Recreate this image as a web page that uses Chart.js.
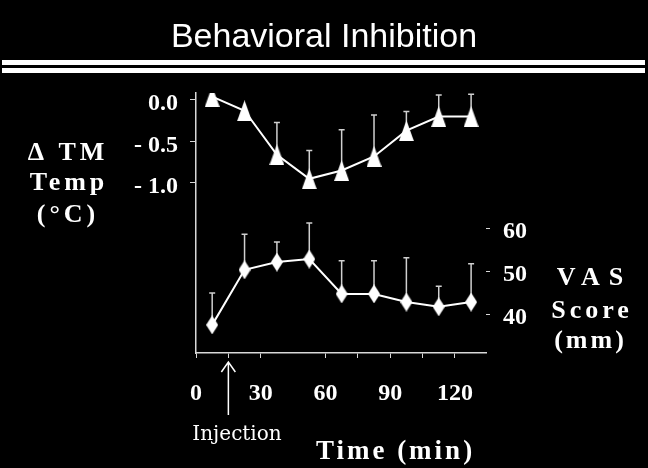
<!DOCTYPE html>
<html>
<head>
<meta charset="utf-8">
<script src="https://cdn.jsdelivr.net/npm/chart.js@4.4.1/dist/chart.umd.min.js"></script>
<style>
  html, body { margin: 0; padding: 0; background: #000; }
  canvas { display: block; }
</style>
</head>
<body>
<canvas id="chart" width="648" height="468"></canvas>
<script>
// time points (min), centres of 15-min bins
const times = [7.5, 22.5, 37.5, 52.5, 67.5, 82.5, 97.5, 112.5, 127.5];

// change in tympanic membrane temperature (deg C) and upper error
const tempMean = [0.04, -0.13, -0.66, -0.95, -0.85, -0.68, -0.37, -0.2, -0.2];
const tempErr  = [0, 0, 0.39, 0.34, 0.49, 0.5, 0.23, 0.26, 0.27];

// VAS score (mm) and upper error
const vasMean = [37.7, 50.5, 52.3, 53.0, 44.9, 44.9, 43.0, 41.9, 43.0];
const vasErr  = [7.4, 8.3, 4.7, 8.4, 7.7, 7.7, 10.3, 4.8, 8.9];

// axis ticks
const xTicks = [0, 15, 30, 60, 75, 90, 105, 120];
const xLabels = {0: '0', 30: '30', 60: '60', 90: '90', 120: '120'};
const tempTicks = [0, -0.5, -1.0];
const tempLabels = {'0': '0.0', '-0.5': '- 0.5', '-1': '- 1.0'};
const vasTicks = [40, 50, 60];

const injectionTime = 15;

const FG = '#ffffff';
const AXIS = '#d8d8d8';
const labelFont = { family: 'Liberation Serif', size: 24, weight: 'bold' };

// tall marker shapes like the original slide
function triangleImg(w, h) {
  const c = document.createElement('canvas');
  c.width = w; c.height = h;
  const g = c.getContext('2d');
  g.fillStyle = FG;
  g.beginPath();
  g.moveTo(w / 2, 0); g.lineTo(w, h); g.lineTo(0, h);
  g.closePath(); g.fill();
  return c;
}
function diamondImg(w, h) {
  const c = document.createElement('canvas');
  c.width = w; c.height = h;
  const g = c.getContext('2d');
  g.fillStyle = FG;
  g.beginPath();
  g.moveTo(w / 2, 0); g.lineTo(w, h / 2); g.lineTo(w / 2, h); g.lineTo(0, h / 2);
  g.closePath(); g.fill();
  return c;
}

const errors = [tempErr, vasErr];
const means = [tempMean, vasMean];

const errorBars = {
  id: 'errorBars',
  beforeDatasetsDraw(chart) {
    const ctx = chart.ctx;
    ctx.save();
    ctx.strokeStyle = '#cfcfcf';
    ctx.lineWidth = 1.5;
    chart.data.datasets.forEach((ds, d) => {
      const meta = chart.getDatasetMeta(d);
      const ys = chart.scales[meta.yAxisID];
      meta.data.forEach((pt, i) => {
        if (!errors[d][i]) return;
        const y0 = ys.getPixelForValue(means[d][i]);
        const y1 = ys.getPixelForValue(means[d][i] + errors[d][i]);
        ctx.beginPath();
        ctx.moveTo(pt.x, y0); ctx.lineTo(pt.x, y1);
        ctx.moveTo(pt.x - 3, y1); ctx.lineTo(pt.x + 3, y1);
        ctx.stroke();
      });
    });
    ctx.restore();
  }
};

function spaced(ctx, text, cx, y, spacing) {
  ctx.letterSpacing = spacing + 'px';
  const w = ctx.measureText(text).width - spacing;
  ctx.textAlign = 'left';
  ctx.fillText(text, cx - w / 2, y);
  ctx.letterSpacing = '0px';
}

const decor = {
  id: 'decor',
  afterDraw(chart) {
    const ctx = chart.ctx;
    ctx.save();
    ctx.fillStyle = FG;
    ctx.textBaseline = 'alphabetic';

    // title and double rule
    ctx.font = '34px "Liberation Sans"';
    ctx.textAlign = 'center';
    ctx.fillText('Behavioral Inhibition', 324, 47);
    ctx.fillRect(2, 60, 643, 5);
    ctx.fillRect(2, 68, 643, 5);

    // left axis title
    ctx.font = 'bold 26px "Liberation Serif"';
    spaced(ctx, '\u0394 TM', 66, 160, 4);
    spaced(ctx, 'Temp', 67, 190, 4);
    spaced(ctx, '(\u00b0C)', 66, 222, 4);

    // right axis title
    spaced(ctx, 'VAS', 590, 285, 9);
    spaced(ctx, 'Score', 590, 318, 4);
    spaced(ctx, '(mm)', 589, 348, 3);

    // x axis title
    ctx.font = 'bold 27px "Liberation Serif"';
    spaced(ctx, 'Time (min)', 394, 459, 3);

    // injection arrow
    const ix = chart.scales.x.getPixelForValue(injectionTime);
    ctx.strokeStyle = FG;
    ctx.lineWidth = 1.5;
    ctx.beginPath();
    ctx.moveTo(ix, 363); ctx.lineTo(ix, 415);
    ctx.moveTo(ix - 7, 372); ctx.lineTo(ix, 362); ctx.lineTo(ix + 7, 372);
    ctx.stroke();
    ctx.font = '20px "DejaVu Serif"';
    ctx.textAlign = 'center';
    ctx.fillText('Injection', 237, 440);

    ctx.restore();
  }
};

new Chart(document.getElementById('chart'), {
  type: 'line',
  data: {
    datasets: [
      {
        label: '\u0394 TM Temp',
        data: times.map((t, i) => ({ x: t, y: tempMean[i] })),
        yAxisID: 'yT',
        borderColor: FG,
        borderWidth: 2,
        pointStyle: triangleImg(15, 21),
        tension: 0
      },
      {
        label: 'VAS Score',
        data: times.map((t, i) => ({ x: t, y: vasMean[i] })),
        yAxisID: 'yV',
        borderColor: FG,
        borderWidth: 2,
        pointStyle: diamondImg(12, 19),
        tension: 0
      }
    ]
  },
  options: {
    responsive: false,
    animation: false,
    layout: { padding: { top: 93, left: 0, right: 0, bottom: 0 } },
    plugins: { legend: { display: false }, tooltip: { enabled: false } },
    scales: {
      x: {
        type: 'linear',
        min: 0,
        max: 134.4,
        afterFit(s) { s.height = 115; },
        afterBuildTicks(s) { s.ticks = xTicks.map(v => ({ value: v })); },
        grid: { drawOnChartArea: false, color: AXIS, tickLength: 5 },
        border: { color: AXIS, width: 1.5 },
        ticks: {
          color: FG, font: labelFont, padding: 21, maxRotation: 0, autoSkip: false,
          callback: v => xLabels[v] || ''
        }
      },
      yT: {
        position: 'left',
        min: -3.048,
        max: 0.084,
        afterFit(s) { s.width = 196; },
        afterBuildTicks(s) { s.ticks = tempTicks.map(v => ({ value: v })); },
        grid: { drawOnChartArea: false, color: AXIS, tickLength: 6 },
        border: { color: AXIS, width: 1.5 },
        ticks: {
          color: FG, font: labelFont, padding: 12, labelOffset: 4,
          callback: v => tempLabels[String(v)]
        }
      },
      yV: {
        position: 'right',
        min: 31.16,
        max: 91.63,
        afterFit(s) { s.width = 162; },
        afterBuildTicks(s) { s.ticks = vasTicks.map(v => ({ value: v })); },
        grid: { drawOnChartArea: false, color: AXIS, tickLength: 4 },
        border: { display: false },
        ticks: {
          color: FG, font: labelFont, padding: 13, labelOffset: 3,
          callback: v => String(v)
        }
      }
    }
  },
  plugins: [errorBars, decor]
});
</script>
</body>
</html>
